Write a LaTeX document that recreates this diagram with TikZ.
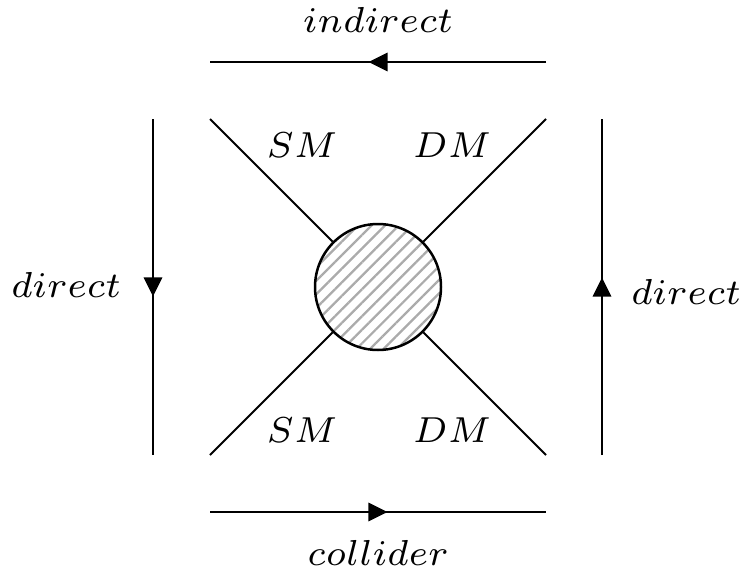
\documentclass[tikz,border=0pt]{standalone}
\usepackage{graphicx}
\usetikzlibrary{arrows.meta,patterns.meta,decorations.markings}
\newcommand{\lbltxt}[1]{\scalebox{1.24}{\scriptsize$#1$}}

\begin{document}
\begin{tikzpicture}[x=0.8445cm,y=0.8445cm,line width=0.5pt]
\colorlet{chatch}{black!33}
\tikzset{
  blob/.style={circle,draw,line width=0.6pt,minimum size=1.26*0.8445cm,inner sep=0pt,
    pattern={Lines[angle=45,distance=2.3pt,line width=0.55pt]},pattern color=chatch},
  midarrow/.style={postaction={decorate},decoration={markings,
    mark=at position 0.5 with {\arrow[xshift=2.3pt]{Triangle[length=4.6pt,width=4.4pt]}}}},
  lbl/.style={inner sep=1pt}}
\useasboundingbox (-3.78,-2.83) rectangle (3.68,2.87);
% ---- vertex with four legs ----
\node[blob] (blob) at (0,0) {};
\coordinate (tl) at (-1.68,1.68);\coordinate (tr) at (1.68,1.68);
\coordinate (bl) at (-1.68,-1.68);\coordinate (br) at (1.68,-1.68);
\foreach \c in {tl,tr,bl,br}{\draw (\c) -- (blob);}
\node[lbl] (smtop) at (-0.76,1.42) {\lbltxt{SM}};
\node[lbl] (dmtop) at (0.74,1.42) {\lbltxt{DM}};
\node[lbl] (smbot) at (-0.76,-1.43) {\lbltxt{SM}};
\node[lbl] (dmbot) at (0.74,-1.43) {\lbltxt{DM}};
% ---- process directions ----
\coordinate (ind-a) at (1.68,2.25);\coordinate (ind-b) at (-1.68,2.25);
\coordinate (col-a) at (-1.68,-2.25);\coordinate (col-b) at (1.68,-2.25);
\coordinate (dl-a) at (-2.25,1.68);\coordinate (dl-b) at (-2.25,-1.68);
\coordinate (dr-a) at (2.24,-1.68);\coordinate (dr-b) at (2.24,1.68);
\draw[midarrow] (ind-a) -- (ind-b);
\draw[midarrow] (col-a) -- (col-b);
\draw[midarrow] (dl-a) -- (dl-b);
\draw[midarrow] (dr-a) -- (dr-b);
\node[lbl] (indirect) at (0,2.67) {\lbltxt{indirect}};
\node[lbl] (collider) at (0,-2.66) {\lbltxt{collider}};
\node[lbl] (directl) at (-3.12,0.02) {\lbltxt{direct}};
\node[lbl] (directr) at (3.08,-0.05) {\lbltxt{direct}};
\end{tikzpicture}
\end{document}
